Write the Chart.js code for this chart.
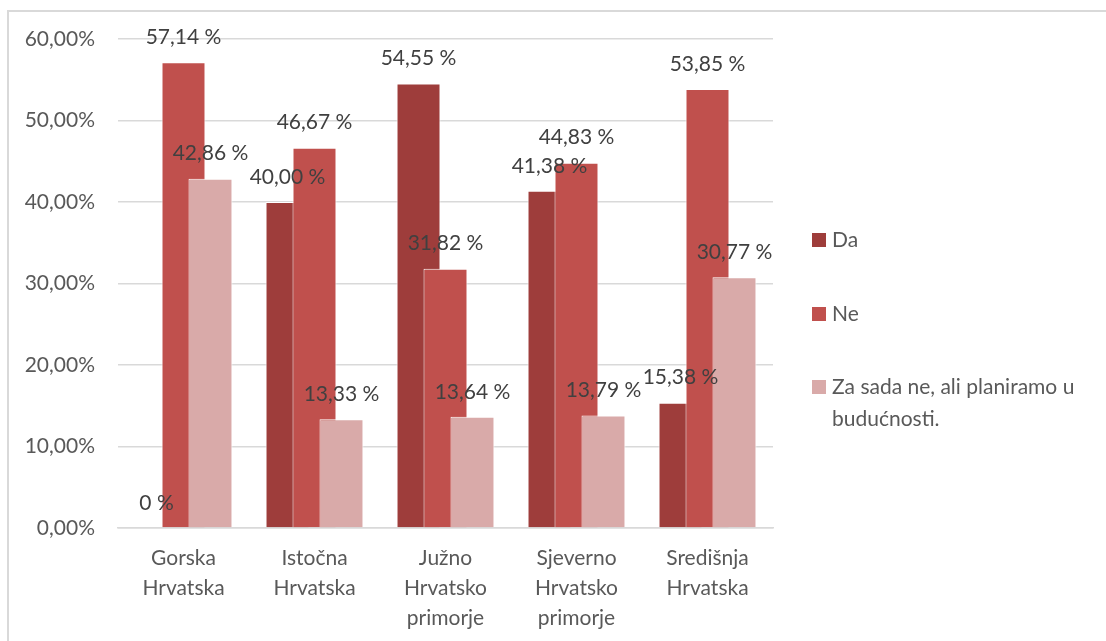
<!DOCTYPE html>
<html>
<head>
<meta charset="utf-8">
<script src="https://cdn.jsdelivr.net/npm/chart.js@4.4.1/dist/chart.umd.min.js"></script>
<style>
  html, body { margin: 0; padding: 0; background: #fff; }
  canvas { display: block; }
</style>
</head>
<body>
<canvas id="regionChart" width="1106" height="641"></canvas>
<script>
// Data
const regions = [
    ['Gorska', 'Hrvatska'],
    ['Istočna', 'Hrvatska'],
    ['Južno', 'Hrvatsko', 'primorje'],
    ['Sjeverno', 'Hrvatsko', 'primorje'],
    ['Središnja', 'Hrvatska']
];
const daValues = [0, 40.00, 54.55, 41.38, 15.38];
const neValues = [57.14, 46.67, 31.82, 44.83, 53.85];
const zaSadaValues = [42.86, 13.33, 13.64, 13.79, 30.77];
const seriesLabels = ['Da', 'Ne', ['Za sada ne, ali planiramo u', 'budućnosti.']];
const yTickLabels = ['0,00%', '10,00%', '20,00%', '30,00%', '40,00%', '50,00%', '60,00%'];

const FONT = 'Lato, "Noto Sans", sans-serif';
const colors = ['#9e3d3b', '#c0504d', '#d9aaa9'];

function formatLabel(v) {
    if (v === 0) return '0 %';
    return v.toFixed(2).replace('.', ',') + ' %';
}

// Outer frame of the chart object
const framePlugin = {
    id: 'frame',
    beforeDraw(chart) {
        const ctx = chart.ctx;
        ctx.save();
        ctx.strokeStyle = '#d9d9d9';
        ctx.lineWidth = 2;
        ctx.strokeRect(8, 11, 1200, 700);
        ctx.restore();
    }
};

// Draw first dataset first so later series sit on top of the overlap
const drawOrderPlugin = {
    id: 'drawOrder',
    beforeDatasetsDraw(chart) {
        chart.getSortedVisibleDatasetMetas().forEach(meta => meta.controller.draw());
        return false;
    }
};

// Value labels above each bar
const valueLabelPlugin = {
    id: 'valueLabels',
    afterDraw(chart) {
        const ctx = chart.ctx;
        ctx.save();
        ctx.font = '21px ' + FONT;
        ctx.fillStyle = '#404040';
        ctx.textAlign = 'center';
        ctx.textBaseline = 'middle';
        chart.getSortedVisibleDatasetMetas().forEach(meta => {
            const values = chart.data.datasets[meta.index].data;
            meta.data.forEach((bar, i) => {
                ctx.fillText(formatLabel(values[i]), bar.x, bar.y - 25);
            });
        });
        ctx.restore();
    }
};

// Legend on the right, with wrapped text
const legendPlugin = {
    id: 'sideLegend',
    afterDraw(chart) {
        const ctx = chart.ctx;
        const rows = [240, 314, 387];
        ctx.save();
        ctx.font = '21px ' + FONT;
        ctx.textAlign = 'left';
        ctx.textBaseline = 'middle';
        chart.data.datasets.forEach((ds, i) => {
            ctx.fillStyle = ds.backgroundColor;
            ctx.fillRect(812, rows[i] - 7, 14, 14);
            ctx.fillStyle = '#595959';
            const lines = Array.isArray(ds.label) ? ds.label : [ds.label];
            lines.forEach((line, j) => ctx.fillText(line, 832, rows[i] + j * 32));
        });
        ctx.restore();
    }
};

const datasets = [daValues, neValues, zaSadaValues].map((values, i) => ({
    label: seriesLabels[i],
    data: values,
    backgroundColor: colors[i],
    borderColor: '#ffffff',
    borderWidth: 1,
    categoryPercentage: 0.618,
    barPercentage: 1.63
}));

new Chart(document.getElementById('regionChart'), {
    type: 'bar',
    data: { labels: regions, datasets },
    plugins: [framePlugin, drawOrderPlugin, valueLabelPlugin, legendPlugin],
    options: {
        responsive: false,
        animation: false,
        layout: { padding: { top: 39, right: 333, bottom: 0, left: 0 } },
        plugins: {
            legend: { display: false },
            tooltip: { enabled: false }
        },
        scales: {
            x: {
                grid: { display: false },
                border: { display: true, color: '#d9d9d9', width: 1.5 },
                ticks: {
                    color: '#595959',
                    font: { family: FONT, size: 21, lineHeight: 1.43 },
                    padding: 7,
                    maxRotation: 0,
                    autoSkip: false
                },
                afterFit(scale) { scale.height = 113; }
            },
            y: {
                min: 0,
                max: 60,
                grid: { color: '#d9d9d9', lineWidth: 1.5, drawTicks: false },
                border: { display: false },
                ticks: {
                    stepSize: 10,
                    color: '#595959',
                    font: { family: FONT, size: 21 },
                    padding: 23,
                    callback: (v) => yTickLabels[Math.round(v / 10)]
                },
                afterFit(scale) { scale.width = 118; }
            }
        }
    }
});
</script>
</body>
</html>
